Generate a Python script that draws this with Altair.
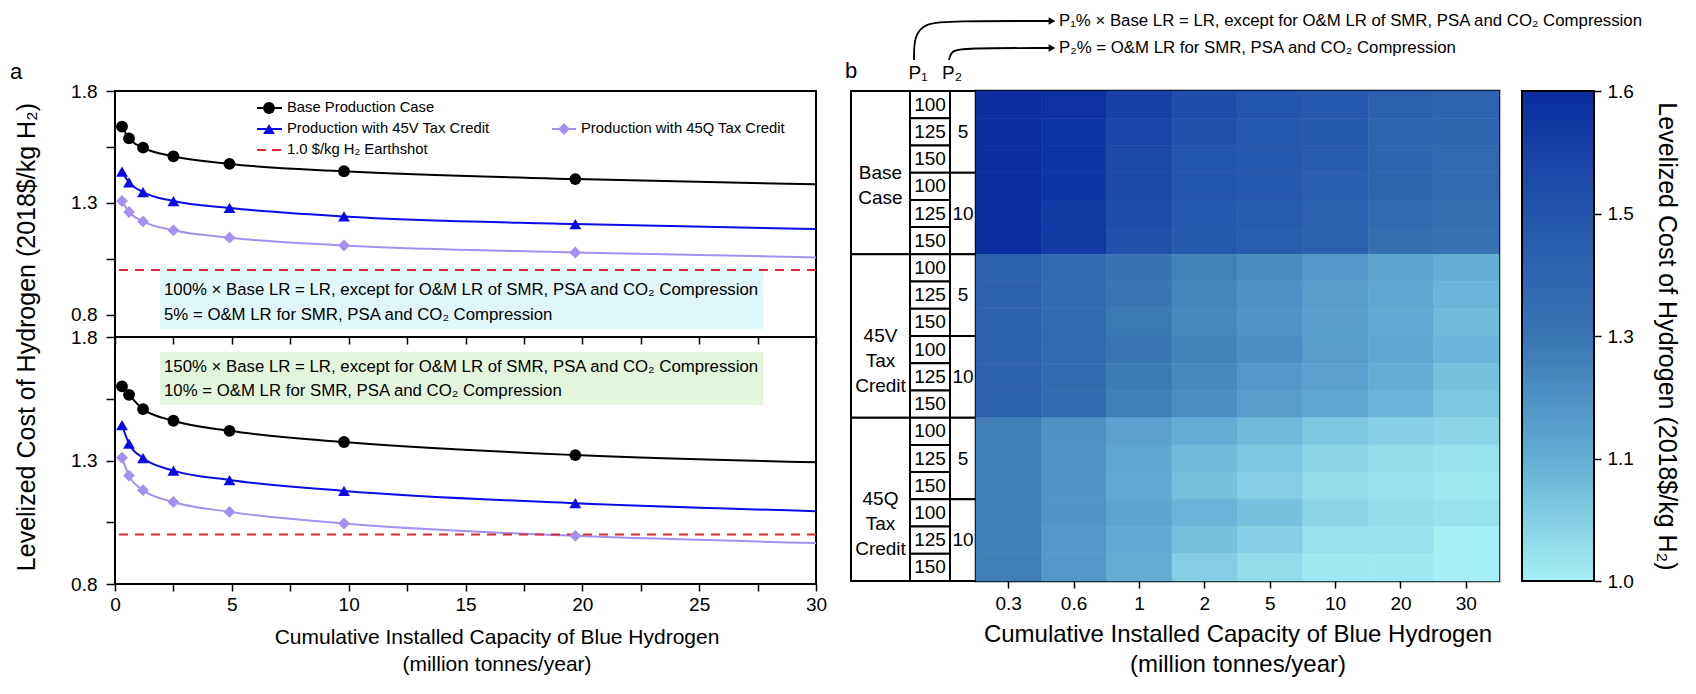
import altair as alt
import pandas as pd

SANS = "Liberation Sans, Arial, sans-serif"

# ---------------- panel a : cost curves ----------------
capacity = [0.3, 0.6, 1.2, 2.5, 4.9, 9.8, 19.7, 30.0]
series_names = ["Base Production Case", "Production with 45V Tax Credit",
                "Production with 45Q Tax Credit"]
top_base = [1.641, 1.588, 1.547, 1.508, 1.474, 1.441, 1.406, 1.383]
top_45v = [1.439, 1.391, 1.348, 1.308, 1.277, 1.239, 1.205, 1.183]
top_45q = [1.308, 1.259, 1.217, 1.177, 1.144, 1.109, 1.078, 1.056]
bot_base = [1.600, 1.566, 1.508, 1.461, 1.420, 1.375, 1.322, 1.293]
bot_45v = [1.443, 1.368, 1.310, 1.259, 1.221, 1.177, 1.127, 1.095]
bot_45q = [1.311, 1.239, 1.180, 1.132, 1.092, 1.045, 0.995, 0.966]
earthshot = [1.0]
marked_points = 7

top_note = ["100% \u00d7 Base LR =  LR, except for O&M LR of SMR, PSA and CO\u2082 Compression",
            "5% = O&M LR for SMR, PSA and CO\u2082 Compression"]
bot_note = ["150% \u00d7 Base LR =  LR, except for O&M LR of SMR, PSA and CO\u2082 Compression",
            "10% = O&M LR for SMR, PSA and CO\u2082 Compression"]

# ---------------- panel b : heat map ----------------
cap_labels = ["0.3", "0.6", "1", "2", "5", "10", "20", "30"]
group_labels = ["Base Case", "45V Tax Credit", "45Q Tax Credit"]
p1_levels = ["100", "125", "150"]
p2_levels = ["5", "10"]
# rows: (P2=5: P1=100,125,150), (P2=10: P1=100,125,150)
heat_base = [
    [1.64, 1.59, 1.55, 1.52, 1.50, 1.48, 1.43, 1.40],
    [1.64, 1.58, 1.54, 1.51, 1.49, 1.47, 1.41, 1.39],
    [1.64, 1.58, 1.53, 1.50, 1.48, 1.46, 1.40, 1.37],
    [1.62, 1.58, 1.53, 1.50, 1.48, 1.45, 1.39, 1.37],
    [1.61, 1.57, 1.52, 1.48, 1.46, 1.43, 1.37, 1.34],
    [1.60, 1.57, 1.51, 1.47, 1.45, 1.42, 1.34, 1.31],
]
heat_45v = [
    [1.42, 1.37, 1.31, 1.26, 1.22, 1.18, 1.13, 1.10],
    [1.42, 1.36, 1.30, 1.24, 1.20, 1.16, 1.12, 1.09],
    [1.42, 1.36, 1.29, 1.23, 1.19, 1.15, 1.11, 1.08],
    [1.42, 1.36, 1.30, 1.25, 1.21, 1.16, 1.12, 1.09],
    [1.42, 1.35, 1.28, 1.23, 1.18, 1.14, 1.10, 1.07],
    [1.42, 1.35, 1.27, 1.21, 1.16, 1.12, 1.09, 1.06],
]
heat_45q = [
    [1.27, 1.20, 1.14, 1.10, 1.08, 1.06, 1.05, 1.04],
    [1.27, 1.19, 1.12, 1.08, 1.06, 1.04, 1.03, 1.02],
    [1.27, 1.19, 1.11, 1.07, 1.05, 1.03, 1.02, 1.01],
    [1.27, 1.19, 1.13, 1.09, 1.07, 1.04, 1.03, 1.02],
    [1.27, 1.18, 1.11, 1.07, 1.05, 1.02, 1.02, 1.00],
    [1.27, 1.18, 1.10, 1.05, 1.03, 1.01, 1.01, 0.99],
]
cb_values = [1.0, 1.1, 1.3, 1.5, 1.6]
cb_labels = ["1.0", "1.1", "1.3", "1.5", "1.6"]
cb_colors = ["#a6eff6", "#62aed3", "#3a74b4", "#2455ac", "#0a2da0"]

ann_line1 = "P\u2081% \u00d7 Base LR = LR, except for O&M LR of SMR, PSA and CO\u2082 Compression"
ann_line2 = "P\u2082% = O&M LR for SMR, PSA and CO\u2082 Compression"

# ---------------- styling ----------------
LINE_COLORS = ["#000000", "#0b0be8", "#a590ef"]
SHAPES = ["circle", "triangle-up", "diamond"]
RED = "#e3262b"
CYAN = "#e0f7fa"
GREEN = "#e3f5dc"
W_A, H_TOP, H_BOT = 701, 246, 247
W_HEAT, H_HEAT = 523, 490
W_GRP, W_P1, W_P2, W_CB = 59, 40, 26, 95
MARK = 140

one = pd.DataFrame({"k": [0]})


def txt(s, x, y, size, align="left", angle=0, opacity=1):
    return alt.Chart(one).mark_text(
        text=s, align=align, baseline="middle", font=SANS, fontSize=size,
        angle=angle, color="black", opacity=opacity
    ).encode(x=alt.value(x), y=alt.value(y))


def box(x1, x2, y1, y2, color):
    return alt.Chart(one).mark_rect(color=color).encode(
        x=alt.value(x1), x2=alt.value(x2), y=alt.value(y1), y2=alt.value(y2))


def leg_line(x1, x2, y, color, dash=None):
    kw = dict(color=color, strokeWidth=2)
    if dash:
        kw["strokeDash"] = dash
    return alt.Chart(one).mark_rule(**kw).encode(
        x=alt.value(x1), x2=alt.value(x2), y=alt.value(y))


def leg_marker(x, y, shape, color):
    return alt.Chart(one).mark_point(
        shape=shape, filled=True, color=color, size=MARK, opacity=1
    ).encode(x=alt.value(x), y=alt.value(y))


def curve_df(vals):
    rows = []
    for name, ys in zip(series_names, vals):
        for i, (x, y) in enumerate(zip(capacity, ys)):
            rows.append({"series": name, "x": x, "y": y, "marker": i < marked_points})
    return pd.DataFrame(rows)


x_ticks = [i * 2.5 for i in range(13)]
y_ticks = [0.8, 1.05, 1.3, 1.55, 1.8]
y_label_expr = ("abs(datum.value - 1.05) < 0.001 || abs(datum.value - 1.55) < 0.001"
                " ? '' : format(datum.value, '.1f')")
color_scale = alt.Scale(domain=series_names, range=LINE_COLORS)
shape_scale = alt.Scale(domain=series_names, range=SHAPES)


def curve_panel(df, ydom, show_x):
    if show_x:
        xaxis = alt.Axis(values=x_ticks,
                         labelExpr="datum.value % 5 === 0 ? format(datum.value, 'd') : ''",
                         title=["Cumulative Installed Capacity of Blue Hydrogen",
                                "(million tonnes/year)"],
                         titleFont=SANS, titleFontSize=21, titleLineHeight=27,
                         titleX=W_A / 2 + 31, titlePadding=12, labelFont=SANS,
                         labelFontSize=19, labelPadding=4, tickSize=7)
    else:
        xaxis = alt.Axis(values=x_ticks, labels=False, title=None, tickSize=7)
    yaxis = alt.Axis(values=y_ticks, labelExpr=y_label_expr, title=None,
                     labelFont=SANS, labelFontSize=19, tickSize=9, labelPadding=9)
    xs = alt.X("x:Q", scale=alt.Scale(domain=[0, 30], nice=False, zero=False), axis=xaxis)
    ys = alt.Y("y:Q", scale=alt.Scale(domain=ydom, nice=False, zero=False), axis=yaxis)
    col = alt.Color("series:N", scale=color_scale, legend=None)
    lines = alt.Chart(df).mark_line(interpolate="monotone", strokeWidth=2).encode(
        x=xs, y=ys, color=col)
    pts = alt.Chart(df).transform_filter("datum.marker").mark_point(
        filled=True, size=MARK, opacity=1).encode(
        x="x:Q", y="y:Q", color=col,
        shape=alt.Shape("series:N", scale=shape_scale, legend=None))
    rule = alt.Chart(pd.DataFrame({"y": earthshot})).mark_rule(
        color=RED, strokeWidth=2, strokeDash=[9, 7]).encode(y="y:Q")
    return [lines, rule, pts]


LEG = 14.8
top_layers = [box(45, 648, 176, 238, CYAN),
              txt(top_note[0], 49, 199, 16.8),
              txt(top_note[1], 49, 224, 16.8)]
top_layers += curve_panel(curve_df([top_base, top_45v, top_45q]), [0.7, 1.8], False)
top_layers += [
    leg_line(142, 167, 17, LINE_COLORS[0]), leg_marker(154, 17, "circle", LINE_COLORS[0]),
    txt(series_names[0], 172, 17, LEG),
    leg_line(142, 167, 38, LINE_COLORS[1]), leg_marker(154, 38, "triangle-up", LINE_COLORS[1]),
    txt(series_names[1], 172, 38, LEG),
    leg_line(437, 461, 38, LINE_COLORS[2]), leg_marker(449, 38, "diamond", LINE_COLORS[2]),
    txt(series_names[2], 466, 38, LEG),
    leg_line(142, 167, 59, RED, [9, 6]),
    txt("1.0 $/kg H\u2082 Earthshot", 172, 59, LEG),
    txt("a", -99, -19, 22, align="center"),
    txt("Levelized Cost of Hydrogen (2018$/kg H\u2082)", -88, 246, 25, align="center", angle=270),
    txt("P", 0, -70, 16.8, opacity=0),
]
top = alt.layer(*top_layers).properties(width=W_A, height=H_TOP)

bot_layers = [box(45, 648, 15, 68, GREEN),
              txt(bot_note[0], 49, 30, 16.8),
              txt(bot_note[1], 49, 54, 16.8)]
bot_layers += curve_panel(curve_df([bot_base, bot_45v, bot_45q]), [0.8, 1.8], True)
bottom = alt.layer(*bot_layers).properties(width=W_A, height=H_BOT)

left = alt.vconcat(top, bottom, spacing=0, bounds="flush")

# ---------------- heat map data ----------------
hrows = []
for g, mat in enumerate([heat_base, heat_45v, heat_45q]):
    for j in range(len(p2_levels)):
        for k in range(len(p1_levels)):
            r = g * 6 + j * 3 + k
            for c, v in zip(cap_labels, mat[j * 3 + k]):
                hrows.append({"cap": c, "r0": r, "r1": r + 1, "v": v})
hdf = pd.DataFrame(hrows)

yscale = alt.Scale(domain=[0, 18], reverse=True, nice=False, zero=False)
cscale = alt.Scale(domain=cb_values, range=cb_colors, clamp=True, interpolate="rgb")

heat = alt.Chart(hdf).mark_rect(strokeWidth=0.6).encode(
    x=alt.X("cap:O", sort=cap_labels, scale=alt.Scale(paddingInner=0, paddingOuter=0),
            axis=alt.Axis(labelAngle=0, tickSize=7, labelPadding=6, labelFont=SANS,
                          labelFontSize=19,
                          title=["Cumulative Installed Capacity of Blue Hydrogen",
                                 "(million tonnes/year)"],
                          titleFont=SANS, titleFontSize=24, titleLineHeight=30,
                          titlePadding=9)),
    y=alt.Y("r0:Q", scale=yscale, axis=None),
    y2="r1:Q",
    color=alt.Color("v:Q", scale=cscale, legend=None),
    stroke=alt.Stroke("v:Q", scale=cscale, legend=None),
).properties(width=W_HEAT, height=H_HEAT,
             view=alt.ViewBackground(stroke="black", strokeWidth=2.5))

# table columns
grp_df = pd.DataFrame({"label": [s.replace(" ", "\n") for s in group_labels],
                       "r0": [0, 6, 12], "r1": [6, 12, 18]})
grp_df["mid"] = (grp_df.r0 + grp_df.r1) / 2
p1_df = pd.DataFrame({"label": p1_levels * 6, "r0": list(range(18))})
p1_df["r1"] = p1_df.r0 + 1
p1_df["mid"] = p1_df.r0 + 0.5
p2_df = pd.DataFrame({"label": p2_levels * 3, "r0": [0, 3, 6, 9, 12, 15]})
p2_df["r1"] = p2_df.r0 + 3
p2_df["mid"] = p2_df.r0 + 1.5


def table_col(df, width, line_height=25):
    cells = alt.Chart(df).mark_rect(fill="white", stroke="black", strokeWidth=2).encode(
        x=alt.value(0), x2=alt.value(width),
        y=alt.Y("r0:Q", scale=yscale, axis=None), y2="r1:Q")
    labels = alt.Chart(df).mark_text(
        font=SANS, fontSize=19, baseline="middle", align="center",
        lineBreak="\n", lineHeight=line_height, color="black").encode(
        x=alt.value(width / 2), y=alt.Y("mid:Q", scale=yscale, axis=None), text="label:N")
    return [cells, labels]


AX = 15  # horizontal shift of the annotation block
arrow_df = pd.DataFrame({
    "arrow": ["p1"] * 5 + ["p2"] * 4,
    "i": list(range(5)) + list(range(4)),
    "ax": [63, 63, 74, 100, 184 + AX, 98, 100, 112, 184 + AX],
    "ay": [-31, -55, -68, -70, -70, -31, -40, -43, -43],
})
arrows = alt.Chart(arrow_df).mark_line(interpolate="basis", color="black", strokeWidth=1.8).encode(
    x=alt.X("ax:Q", scale=None), y=alt.Y("ay:Q", scale=None),
    detail="arrow:N", order="i:Q")
heads = [alt.Chart(one).mark_point(shape="triangle-right", filled=True, color="black",
                                   size=60, opacity=1).encode(x=alt.value(186 + AX), y=alt.value(yy))
         for yy in (-70, -43)]

grp = alt.layer(
    *table_col(grp_df, W_GRP),
    txt("b", 0, -20, 22, align="center"),
    txt("P\u2081", 67, -18, 19, align="center"),
    txt("P\u2082", 101, -18, 19, align="center"),
    arrows, *heads,
    txt(ann_line1, 193 + AX, -70, 16.8),
    txt(ann_line2, 193 + AX, -43, 16.8),
).properties(width=W_GRP, height=H_HEAT,
             view=alt.ViewBackground(stroke="transparent", strokeWidth=0))
p1c = alt.layer(*table_col(p1_df, W_P1)).properties(
    width=W_P1, height=H_HEAT, view=alt.ViewBackground(stroke="transparent", strokeWidth=0))
p2c = alt.layer(*table_col(p2_df, W_P2)).properties(
    width=W_P2, height=H_HEAT, view=alt.ViewBackground(stroke="transparent", strokeWidth=0))

grad = alt.LinearGradient(
    gradient="linear",
    stops=[alt.GradientStop(offset=i / (len(cb_colors) - 1), color=c)
           for i, c in enumerate(cb_colors)],
    x1=0, x2=0, y1=1, y2=0)
cbar_df = pd.DataFrame({"lo": [cb_labels[0]], "hi": [cb_labels[-1]]})
cbar = alt.Chart(cbar_df).mark_rect(fill=grad, stroke="black", strokeWidth=2).encode(
    x=alt.value(23), x2=alt.value(W_CB),
    y=alt.Y("hi:O", scale=alt.Scale(type="point", domain=cb_labels[::-1], padding=0),
            axis=alt.Axis(orient="right", tickSize=7, labelPadding=6, labelFont=SANS,
                          labelFontSize=19,
                          title="Levelized Cost of Hydrogen (2018$/kg H\u2082)",
                          titleFont=SANS, titleFontSize=25, titlePadding=20)),
    y2="lo",
).properties(width=W_CB, height=H_HEAT,
             view=alt.ViewBackground(stroke="transparent", strokeWidth=0))

right = alt.hconcat(grp, p1c, p2c, heat, cbar, spacing=0, bounds="flush")

chart = alt.hconcat(left, right, spacing=16, bounds="full").properties(
    padding={"left": 0, "top": 4, "right": 4, "bottom": 4}
).configure_view(stroke="black", strokeWidth=2).configure_axis(
    domain=False, grid=False, tickColor="black", tickWidth=1.5,
    labelColor="black", titleColor="black", titleFontWeight="normal",
    labelFlush=False, labelOverlap=False
)

chart.save("out.html", embed_options={"renderer": "svg", "actions": False})
